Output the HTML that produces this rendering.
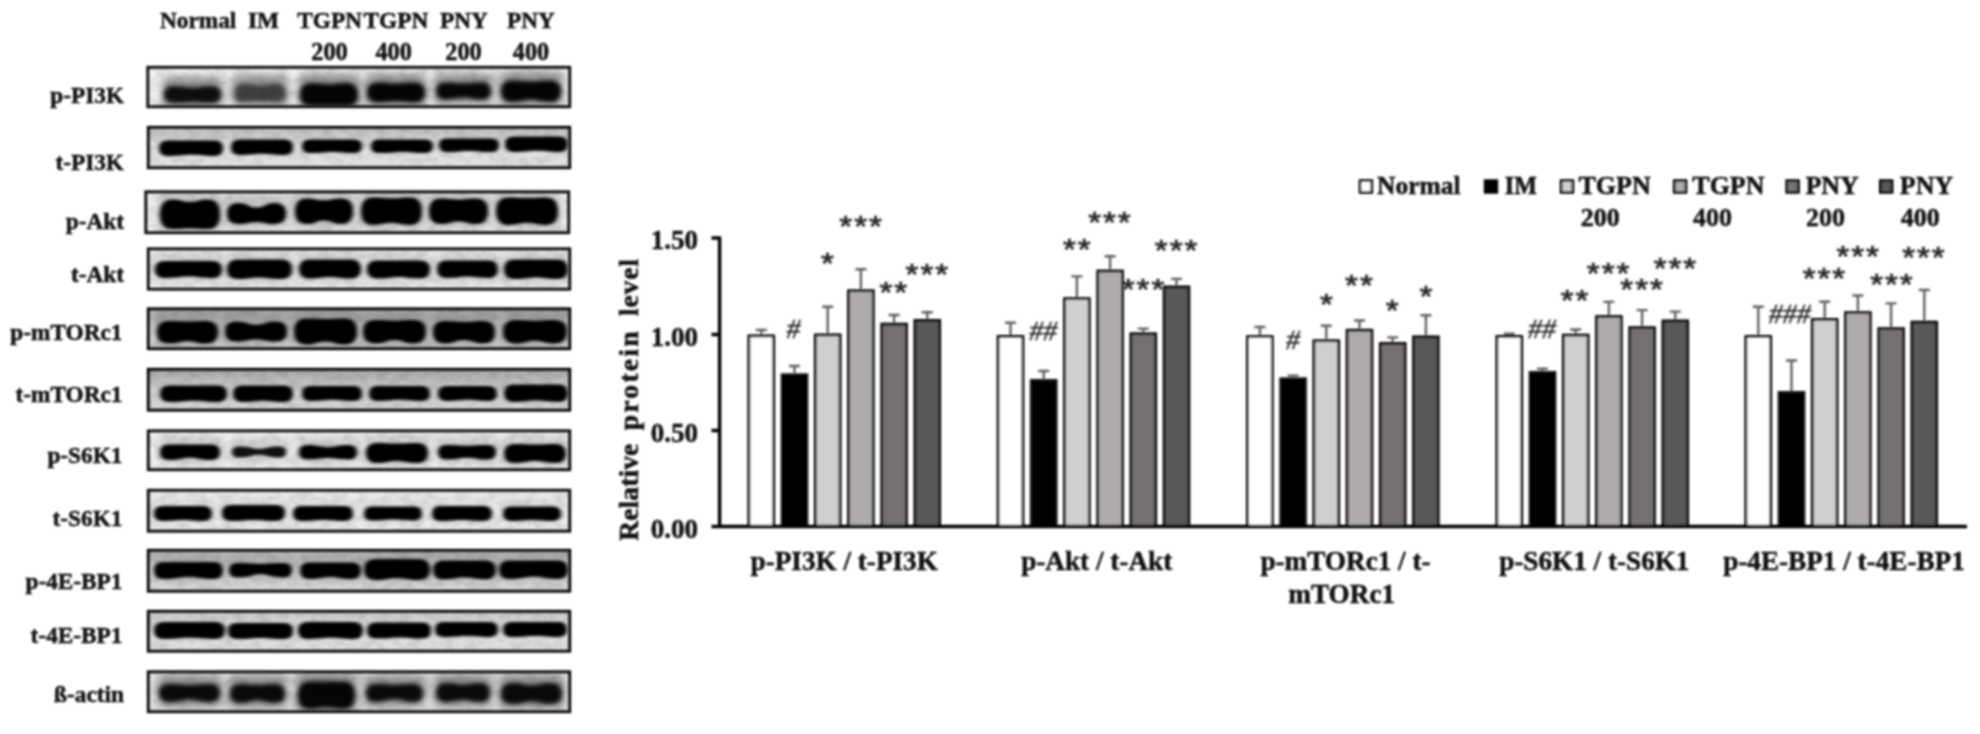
<!DOCTYPE html>
<html lang="en"><head><meta charset="utf-8"><title>Western blot and relative protein level</title>
<style>html,body{margin:0;padding:0;background:#fff}body{width:1980px;height:734px;overflow:hidden}svg{display:block}text{font-family:"Liberation Serif", "Times New Roman", serif;fill:#0a0a0a}.b{font-weight:bold;stroke:#0a0a0a;stroke-width:0.4px}</style></head><body>
<svg width="1980" height="734" viewBox="0 0 1980 734">
<defs>
<filter id="bl" x="-20%" y="-60%" width="140%" height="220%"><feGaussianBlur stdDeviation="2.0 1.6"/></filter>
<filter id="bl2" x="-20%" y="-60%" width="140%" height="220%"><feGaussianBlur stdDeviation="2.8 2.3"/></filter>
<filter id="halo" x="-30%" y="-100%" width="160%" height="300%"><feGaussianBlur stdDeviation="5 5"/></filter>
<filter id="nz" x="0" y="0" width="100%" height="100%"><feTurbulence type="fractalNoise" baseFrequency="0.09 0.12" numOctaves="2" seed="7" result="t"/><feColorMatrix type="matrix" values="0 0 0 0 0  0 0 0 0 0  0 0 0 0 0  1.6 0 0 0 -0.55"/></filter>
<filter id="soft"><feGaussianBlur stdDeviation="0.85"/></filter>
<linearGradient id="tg" x1="0" y1="0" x2="0" y2="1"><stop offset="0" stop-color="#000" stop-opacity="1"/><stop offset="0.55" stop-color="#000" stop-opacity="0"/></linearGradient>
<clipPath id="c0"><rect x="147.5" y="67.0" width="422.5" height="40.0"/></clipPath>
<clipPath id="c1"><rect x="148.0" y="127.0" width="422.0" height="41.0"/></clipPath>
<clipPath id="c2"><rect x="145.5" y="191.5" width="423.5" height="41.5"/></clipPath>
<clipPath id="c3"><rect x="148.0" y="248.5" width="422.0" height="41.0"/></clipPath>
<clipPath id="c4"><rect x="148.0" y="308.5" width="422.0" height="40.5"/></clipPath>
<clipPath id="c5"><rect x="148.0" y="369.0" width="422.0" height="41.5"/></clipPath>
<clipPath id="c6"><rect x="148.0" y="430.5" width="422.0" height="39.5"/></clipPath>
<clipPath id="c7"><rect x="148.0" y="490.0" width="422.0" height="41.5"/></clipPath>
<clipPath id="c8"><rect x="148.0" y="550.0" width="422.0" height="41.5"/></clipPath>
<clipPath id="c9"><rect x="148.0" y="611.0" width="422.0" height="40.5"/></clipPath>
<clipPath id="c10"><rect x="148.0" y="671.5" width="422.0" height="40.5"/></clipPath>
</defs>
<rect width="1980" height="734" fill="#fff"/>
<g class="b" font-size="23.3" filter="url(#soft)">
<text x="160" y="28">Normal</text>
<text x="248" y="28">IM</text>
<text x="297.3" y="28">TGPN</text>
<text x="363.5" y="28">TGPN</text>
<text x="440" y="28">PNY</text>
<text x="507" y="28">PNY</text>
<text x="329.5" y="60" font-size="24.3" text-anchor="middle">200</text>
<text x="393.7" y="60" font-size="24.3" text-anchor="middle">400</text>
<text x="463.5" y="60" font-size="24.3" text-anchor="middle">200</text>
<text x="531" y="60" font-size="24.3" text-anchor="middle">400</text>
<text x="124.0" y="102.5" text-anchor="end">p-PI3K</text>
<text x="124.0" y="170.3" text-anchor="end">t-PI3K</text>
<text x="124.0" y="228.7" text-anchor="end">p-Akt</text>
<text x="124.0" y="282.0" text-anchor="end">t-Akt</text>
<text x="122.5" y="340.0" text-anchor="end">p-mTORc1</text>
<text x="122.5" y="402.0" text-anchor="end">t-mTORc1</text>
<text x="122.5" y="463.3" text-anchor="end">p-S6K1</text>
<text x="122.5" y="526.0" text-anchor="end">t-S6K1</text>
<text x="122.5" y="589.0" text-anchor="end">p-4E-BP1</text>
<text x="122.5" y="642.5" text-anchor="end">t-4E-BP1</text>
<text x="124.0" y="701.7" text-anchor="end">ß-actin</text>
</g>
<g>
<rect x="146.5" y="66.0" width="424.5" height="42.0" fill="#f4f4f4"/>
<g clip-path="url(#c0)">
<rect x="146.5" y="66.0" width="424.5" height="42.0" filter="url(#nz)" opacity="0.12"/>
<g filter="url(#halo)" opacity="0.42">
<rect x="162.0" y="77.0" width="61.0" height="31.0" rx="6"/>
<rect x="232.0" y="75.0" width="56.0" height="32.0" rx="6"/>
<rect x="298.0" y="74.0" width="62.0" height="37.0" rx="6"/>
<rect x="365.0" y="73.5" width="62.0" height="34.0" rx="6"/>
<rect x="434.0" y="73.5" width="59.0" height="31.0" rx="6"/>
<rect x="499.0" y="71.5" width="64.0" height="35.5" rx="6"/>
</g>
<g filter="url(#bl2)" fill="#040404">
<path d="M 164.0 94.5 Q 164.0 86.0 173.3 86.0 C 184.5 86.0 184.5 87.7 192.5 87.7 C 200.5 87.7 200.5 86.0 211.7 86.0 Q 221.0 86.0 221.0 94.5 Q 221.0 103.0 211.7 103.0 C 200.5 103.0 200.5 102.2 192.5 102.2 C 184.5 102.2 184.5 103.0 173.3 103.0 Q 164.0 103.0 164.0 94.5 Z" opacity="0.90"/>
<path d="M 234.0 93.0 Q 234.0 84.0 243.9 84.0 C 252.7 84.0 252.7 85.8 260.0 85.8 C 267.3 85.8 267.3 84.0 276.1 84.0 Q 286.0 84.0 286.0 93.0 Q 286.0 102.0 276.1 102.0 C 267.3 102.0 267.3 101.1 260.0 101.1 C 252.7 101.1 252.7 102.0 243.9 102.0 Q 234.0 102.0 234.0 93.0 Z" opacity="0.55"/>
<path d="M 300.0 94.5 Q 300.0 83.0 311.6 83.0 C 320.9 83.0 320.9 84.2 329.0 84.2 C 337.1 84.2 337.1 83.0 346.4 83.0 Q 358.0 83.0 358.0 94.5 Q 358.0 106.0 346.4 106.0 C 337.1 106.0 337.1 106.0 329.0 106.0 C 320.9 106.0 320.9 106.0 311.6 106.0 Q 300.0 106.0 300.0 94.5 Z" opacity="0.97"/>
<path d="M 367.0 92.5 Q 367.0 82.5 378.0 82.5 C 387.9 82.5 387.9 83.5 396.0 83.5 C 404.1 83.5 404.1 82.5 414.0 82.5 Q 425.0 82.5 425.0 92.5 Q 425.0 102.5 414.0 102.5 C 404.1 102.5 404.1 101.5 396.0 101.5 C 387.9 101.5 387.9 102.5 378.0 102.5 Q 367.0 102.5 367.0 92.5 Z" opacity="0.97"/>
<path d="M 436.0 91.0 Q 436.0 82.5 445.4 82.5 C 455.8 82.5 455.8 83.3 463.5 83.3 C 471.2 83.3 471.2 82.5 481.6 82.5 Q 491.0 82.5 491.0 91.0 Q 491.0 99.5 481.6 99.5 C 471.2 99.5 471.2 97.8 463.5 97.8 C 455.8 97.8 455.8 99.5 445.4 99.5 Q 436.0 99.5 436.0 91.0 Z" opacity="0.95"/>
<path d="M 501.0 91.2 Q 501.0 80.5 512.8 80.5 C 522.6 80.5 522.6 81.6 531.0 81.6 C 539.4 81.6 539.4 80.5 549.2 80.5 Q 561.0 80.5 561.0 91.2 Q 561.0 102.0 549.2 102.0 C 539.4 102.0 539.4 99.8 531.0 99.8 C 522.6 99.8 522.6 102.0 512.8 102.0 Q 501.0 102.0 501.0 91.2 Z" opacity="0.97"/>
</g>
</g>
<rect x="147.8" y="67.3" width="421.9" height="39.4" fill="none" stroke="#0e0e0e" stroke-width="2.9" filter="url(#soft)"/>
</g>
<g>
<rect x="147.0" y="126.0" width="424.0" height="43.0" fill="#e0e0e0"/>
<g clip-path="url(#c1)">
<rect x="147.0" y="126.0" width="424.0" height="43.0" fill="url(#tg)" opacity="0.16"/>
<rect x="147.0" y="126.0" width="424.0" height="43.0" filter="url(#nz)" opacity="0.12"/>
<g filter="url(#bl)" fill="#040404">
<path d="M 159.0 148.2 Q 159.0 140.5 167.5 140.5 C 182.0 140.5 182.0 140.5 191.0 140.5 C 200.0 140.5 200.0 140.5 214.5 140.5 Q 223.0 140.5 223.0 148.2 Q 223.0 156.0 214.5 156.0 C 200.0 156.0 200.0 154.8 191.0 154.8 C 182.0 154.8 182.0 156.0 167.5 156.0 Q 159.0 156.0 159.0 148.2 Z" opacity="1.00"/>
<path d="M 231.0 147.2 Q 231.0 139.5 239.5 139.5 C 253.3 139.5 253.3 139.5 262.0 139.5 C 270.7 139.5 270.7 139.5 284.5 139.5 Q 293.0 139.5 293.0 147.2 Q 293.0 155.0 284.5 155.0 C 270.7 155.0 270.7 153.8 262.0 153.8 C 253.3 153.8 253.3 155.0 239.5 155.0 Q 231.0 155.0 231.0 147.2 Z" opacity="1.00"/>
<path d="M 302.0 146.2 Q 302.0 139.5 309.4 139.5 C 323.6 139.5 323.6 139.5 332.0 139.5 C 340.4 139.5 340.4 139.5 354.6 139.5 Q 362.0 139.5 362.0 146.2 Q 362.0 153.0 354.6 153.0 C 340.4 153.0 340.4 151.9 332.0 151.9 C 323.6 151.9 323.6 153.0 309.4 153.0 Q 302.0 153.0 302.0 146.2 Z" opacity="1.00"/>
<path d="M 371.0 146.2 Q 371.0 139.5 378.4 139.5 C 393.3 139.5 393.3 139.5 402.0 139.5 C 410.7 139.5 410.7 139.5 425.6 139.5 Q 433.0 139.5 433.0 146.2 Q 433.0 153.0 425.6 153.0 C 410.7 153.0 410.7 151.9 402.0 151.9 C 393.3 151.9 393.3 153.0 378.4 153.0 Q 371.0 153.0 371.0 146.2 Z" opacity="1.00"/>
<path d="M 439.0 145.2 Q 439.0 138.5 446.4 138.5 C 460.6 138.5 460.6 138.5 469.0 138.5 C 477.4 138.5 477.4 138.5 491.6 138.5 Q 499.0 138.5 499.0 145.2 Q 499.0 152.0 491.6 152.0 C 477.4 152.0 477.4 150.9 469.0 150.9 C 460.6 150.9 460.6 152.0 446.4 152.0 Q 439.0 152.0 439.0 145.2 Z" opacity="1.00"/>
<path d="M 505.0 144.2 Q 505.0 136.5 513.5 136.5 C 527.7 136.5 527.7 136.5 536.5 136.5 C 545.3 136.5 545.3 136.5 559.5 136.5 Q 568.0 136.5 568.0 144.2 Q 568.0 152.0 559.5 152.0 C 545.3 152.0 545.3 150.8 536.5 150.8 C 527.7 150.8 527.7 152.0 513.5 152.0 Q 505.0 152.0 505.0 144.2 Z" opacity="1.00"/>
</g>
</g>
<rect x="148.3" y="127.3" width="421.4" height="40.4" fill="none" stroke="#0e0e0e" stroke-width="2.9" filter="url(#soft)"/>
</g>
<g>
<rect x="144.5" y="190.5" width="425.5" height="43.5" fill="#efefef"/>
<g clip-path="url(#c2)">
<rect x="144.5" y="190.5" width="425.5" height="43.5" filter="url(#nz)" opacity="0.12"/>
<g filter="url(#halo)" opacity="0.18">
<rect x="158.0" y="190.5" width="64.0" height="43.5" rx="6"/>
<rect x="225.0" y="194.0" width="63.0" height="35.0" rx="6"/>
<rect x="293.0" y="189.5" width="62.0" height="39.5" rx="6"/>
<rect x="359.0" y="188.5" width="65.0" height="41.5" rx="6"/>
<rect x="427.0" y="189.5" width="63.0" height="39.5" rx="6"/>
<rect x="494.0" y="188.5" width="66.0" height="41.5" rx="6"/>
</g>
<g filter="url(#bl)" fill="#040404">
<path d="M 160.0 214.2 Q 160.0 199.5 172.0 199.5 C 181.6 199.5 181.6 201.9 190.0 201.9 C 198.4 201.9 198.4 199.5 208.0 199.5 Q 220.0 199.5 220.0 214.2 Q 220.0 229.0 208.0 229.0 C 198.4 229.0 198.4 228.4 190.0 228.4 C 181.6 228.4 181.6 229.0 172.0 229.0 Q 160.0 229.0 160.0 214.2 Z" opacity="1.00"/>
<path d="M 227.0 213.5 Q 227.0 203.0 238.6 203.0 C 248.2 203.0 248.2 207.6 256.5 207.6 C 264.8 207.6 264.8 203.0 274.4 203.0 Q 286.0 203.0 286.0 213.5 Q 286.0 224.0 274.4 224.0 C 264.8 224.0 264.8 222.3 256.5 222.3 C 248.2 222.3 248.2 224.0 238.6 224.0 Q 227.0 224.0 227.0 213.5 Z" opacity="1.00"/>
<path d="M 295.0 211.2 Q 295.0 198.5 306.6 198.5 C 315.9 198.5 315.9 200.3 324.0 200.3 C 332.1 200.3 332.1 198.5 341.4 198.5 Q 353.0 198.5 353.0 211.2 Q 353.0 224.0 341.4 224.0 C 332.1 224.0 332.1 220.4 324.0 220.4 C 315.9 220.4 315.9 224.0 306.6 224.0 Q 295.0 224.0 295.0 211.2 Z" opacity="1.00"/>
<path d="M 361.0 211.2 Q 361.0 197.5 373.2 197.5 C 383.0 197.5 383.0 198.3 391.5 198.3 C 400.0 198.3 400.0 197.5 409.8 197.5 Q 422.0 197.5 422.0 211.2 Q 422.0 225.0 409.8 225.0 C 400.0 225.0 400.0 223.1 391.5 223.1 C 383.0 223.1 383.0 225.0 373.2 225.0 Q 361.0 225.0 361.0 211.2 Z" opacity="1.00"/>
<path d="M 429.0 211.2 Q 429.0 198.5 440.8 198.5 C 450.2 198.5 450.2 199.5 458.5 199.5 C 466.8 199.5 466.8 198.5 476.2 198.5 Q 488.0 198.5 488.0 211.2 Q 488.0 224.0 476.2 224.0 C 466.8 224.0 466.8 221.4 458.5 221.4 C 450.2 221.4 450.2 224.0 440.8 224.0 Q 429.0 224.0 429.0 211.2 Z" opacity="1.00"/>
<path d="M 496.0 211.2 Q 496.0 197.5 508.4 197.5 C 518.3 197.5 518.3 198.1 527.0 198.1 C 535.7 198.1 535.7 197.5 545.6 197.5 Q 558.0 197.5 558.0 211.2 Q 558.0 225.0 545.6 225.0 C 535.7 225.0 535.7 223.1 527.0 223.1 C 518.3 223.1 518.3 225.0 508.4 225.0 Q 496.0 225.0 496.0 211.2 Z" opacity="1.00"/>
</g>
</g>
<rect x="145.8" y="191.8" width="422.9" height="40.9" fill="none" stroke="#0e0e0e" stroke-width="2.9" filter="url(#soft)"/>
</g>
<g>
<rect x="147.0" y="247.5" width="424.0" height="43.0" fill="#f0f0f0"/>
<g clip-path="url(#c3)">
<rect x="147.0" y="247.5" width="424.0" height="43.0" filter="url(#nz)" opacity="0.12"/>
<g filter="url(#halo)" opacity="0.12">
<rect x="153.0" y="252.0" width="71.0" height="31.0" rx="6"/>
<rect x="225.0" y="250.5" width="69.0" height="33.5" rx="6"/>
<rect x="297.0" y="250.5" width="66.0" height="33.0" rx="6"/>
<rect x="365.0" y="251.5" width="67.0" height="32.0" rx="6"/>
<rect x="435.0" y="251.5" width="65.0" height="31.5" rx="6"/>
<rect x="502.0" y="250.5" width="68.0" height="33.5" rx="6"/>
</g>
<g filter="url(#bl)" fill="#040404">
<path d="M 155.0 269.5 Q 155.0 261.0 164.3 261.0 C 179.1 261.0 179.1 261.0 188.5 261.0 C 197.9 261.0 197.9 261.0 212.7 261.0 Q 222.0 261.0 222.0 269.5 Q 222.0 278.0 212.7 278.0 C 197.9 278.0 197.9 276.6 188.5 276.6 C 179.1 276.6 179.1 278.0 164.3 278.0 Q 155.0 278.0 155.0 269.5 Z" opacity="1.00"/>
<path d="M 227.0 269.2 Q 227.0 259.5 237.7 259.5 C 250.4 259.5 250.4 259.5 259.5 259.5 C 268.6 259.5 268.6 259.5 281.3 259.5 Q 292.0 259.5 292.0 269.2 Q 292.0 279.0 281.3 279.0 C 268.6 279.0 268.6 277.4 259.5 277.4 C 250.4 277.4 250.4 279.0 237.7 279.0 Q 227.0 279.0 227.0 269.2 Z" opacity="1.00"/>
<path d="M 299.0 269.0 Q 299.0 259.5 309.4 259.5 C 321.3 259.5 321.3 259.5 330.0 259.5 C 338.7 259.5 338.7 259.5 350.6 259.5 Q 361.0 259.5 361.0 269.0 Q 361.0 278.5 350.6 278.5 C 338.7 278.5 338.7 277.0 330.0 277.0 C 321.3 277.0 321.3 278.5 309.4 278.5 Q 299.0 278.5 299.0 269.0 Z" opacity="1.00"/>
<path d="M 367.0 269.5 Q 367.0 260.5 376.9 260.5 C 389.7 260.5 389.7 260.5 398.5 260.5 C 407.3 260.5 407.3 260.5 420.1 260.5 Q 430.0 260.5 430.0 269.5 Q 430.0 278.5 420.1 278.5 C 407.3 278.5 407.3 277.1 398.5 277.1 C 389.7 277.1 389.7 278.5 376.9 278.5 Q 367.0 278.5 367.0 269.5 Z" opacity="1.00"/>
<path d="M 437.0 269.2 Q 437.0 260.5 446.6 260.5 C 459.0 260.5 459.0 260.5 467.5 260.5 C 476.0 260.5 476.0 260.5 488.4 260.5 Q 498.0 260.5 498.0 269.2 Q 498.0 278.0 488.4 278.0 C 476.0 278.0 476.0 276.6 467.5 276.6 C 459.0 276.6 459.0 278.0 446.6 278.0 Q 437.0 278.0 437.0 269.2 Z" opacity="1.00"/>
<path d="M 504.0 269.2 Q 504.0 259.5 514.7 259.5 C 527.0 259.5 527.0 259.5 536.0 259.5 C 545.0 259.5 545.0 259.5 557.3 259.5 Q 568.0 259.5 568.0 269.2 Q 568.0 279.0 557.3 279.0 C 545.0 279.0 545.0 277.4 536.0 277.4 C 527.0 277.4 527.0 279.0 514.7 279.0 Q 504.0 279.0 504.0 269.2 Z" opacity="1.00"/>
</g>
</g>
<rect x="148.3" y="248.8" width="421.4" height="40.4" fill="none" stroke="#0e0e0e" stroke-width="2.9" filter="url(#soft)"/>
</g>
<g>
<rect x="147.0" y="307.5" width="424.0" height="42.5" fill="#d6d6d6"/>
<g clip-path="url(#c4)">
<rect x="147.0" y="307.5" width="424.0" height="42.5" fill="url(#tg)" opacity="0.20"/>
<rect x="147.0" y="307.5" width="424.0" height="42.5" filter="url(#nz)" opacity="0.12"/>
<g filter="url(#halo)" opacity="0.18">
<rect x="155.0" y="312.0" width="65.0" height="36.5" rx="6"/>
<rect x="223.0" y="312.5" width="66.0" height="34.0" rx="6"/>
<rect x="292.0" y="309.5" width="67.0" height="40.0" rx="6"/>
<rect x="361.0" y="311.0" width="67.0" height="37.5" rx="6"/>
<rect x="431.0" y="312.0" width="66.0" height="36.5" rx="6"/>
<rect x="501.0" y="311.0" width="68.0" height="37.5" rx="6"/>
</g>
<g filter="url(#bl)" fill="#040404">
<path d="M 157.0 332.2 Q 157.0 321.0 169.2 321.0 C 179.0 321.0 179.0 321.4 187.5 321.4 C 196.0 321.4 196.0 321.0 205.8 321.0 Q 218.0 321.0 218.0 332.2 Q 218.0 343.5 205.8 343.5 C 196.0 343.5 196.0 341.2 187.5 341.2 C 179.0 341.2 179.0 343.5 169.2 343.5 Q 157.0 343.5 157.0 332.2 Z" opacity="1.00"/>
<path d="M 225.0 331.5 Q 225.0 321.5 236.0 321.5 C 247.3 321.5 247.3 324.7 256.0 324.7 C 264.7 324.7 264.7 321.5 276.0 321.5 Q 287.0 321.5 287.0 331.5 Q 287.0 341.5 276.0 341.5 C 264.7 341.5 264.7 339.5 256.0 339.5 C 247.3 339.5 247.3 341.5 236.0 341.5 Q 225.0 341.5 225.0 331.5 Z" opacity="1.00"/>
<path d="M 294.0 331.5 Q 294.0 318.5 306.6 318.5 C 316.7 318.5 316.7 319.0 325.5 319.0 C 334.3 319.0 334.3 318.5 344.4 318.5 Q 357.0 318.5 357.0 331.5 Q 357.0 344.5 344.4 344.5 C 334.3 344.5 334.3 341.4 325.5 341.4 C 316.7 341.4 316.7 344.5 306.6 344.5 Q 294.0 344.5 294.0 331.5 Z" opacity="1.00"/>
<path d="M 363.0 331.8 Q 363.0 320.0 375.6 320.0 C 385.7 320.0 385.7 320.7 394.5 320.7 C 403.3 320.7 403.3 320.0 413.4 320.0 Q 426.0 320.0 426.0 331.8 Q 426.0 343.5 413.4 343.5 C 403.3 343.5 403.3 340.0 394.5 340.0 C 385.7 340.0 385.7 343.5 375.6 343.5 Q 363.0 343.5 363.0 331.8 Z" opacity="1.00"/>
<path d="M 433.0 332.2 Q 433.0 321.0 445.4 321.0 C 455.3 321.0 455.3 321.9 464.0 321.9 C 472.7 321.9 472.7 321.0 482.6 321.0 Q 495.0 321.0 495.0 332.2 Q 495.0 343.5 482.6 343.5 C 472.7 343.5 472.7 340.1 464.0 340.1 C 455.3 340.1 455.3 343.5 445.4 343.5 Q 433.0 343.5 433.0 332.2 Z" opacity="1.00"/>
<path d="M 503.0 331.8 Q 503.0 320.0 515.8 320.0 C 526.0 320.0 526.0 320.7 535.0 320.7 C 544.0 320.7 544.0 320.0 554.2 320.0 Q 567.0 320.0 567.0 331.8 Q 567.0 343.5 554.2 343.5 C 544.0 343.5 544.0 340.7 535.0 340.7 C 526.0 340.7 526.0 343.5 515.8 343.5 Q 503.0 343.5 503.0 331.8 Z" opacity="1.00"/>
</g>
</g>
<rect x="148.3" y="308.8" width="421.4" height="39.9" fill="none" stroke="#0e0e0e" stroke-width="2.9" filter="url(#soft)"/>
</g>
<g>
<rect x="147.0" y="368.0" width="424.0" height="43.5" fill="#d2d2d2"/>
<g clip-path="url(#c5)">
<rect x="147.0" y="368.0" width="424.0" height="43.5" fill="url(#tg)" opacity="0.22"/>
<rect x="147.0" y="368.0" width="424.0" height="43.5" filter="url(#nz)" opacity="0.12"/>
<g filter="url(#bl)" fill="#040404">
<path d="M 160.0 393.8 Q 160.0 385.5 169.1 385.5 C 184.1 385.5 184.1 385.5 193.5 385.5 C 202.9 385.5 202.9 385.5 217.9 385.5 Q 227.0 385.5 227.0 393.8 Q 227.0 402.0 217.9 402.0 C 202.9 402.0 202.9 400.7 193.5 400.7 C 184.1 400.7 184.1 402.0 169.1 402.0 Q 160.0 402.0 160.0 393.8 Z" opacity="1.00"/>
<path d="M 233.0 393.8 Q 233.0 385.5 242.1 385.5 C 254.6 385.5 254.6 385.5 263.0 385.5 C 271.4 385.5 271.4 385.5 283.9 385.5 Q 293.0 385.5 293.0 393.8 Q 293.0 402.0 283.9 402.0 C 271.4 402.0 271.4 400.7 263.0 400.7 C 254.6 400.7 254.6 402.0 242.1 402.0 Q 233.0 402.0 233.0 393.8 Z" opacity="1.00"/>
<path d="M 302.0 393.5 Q 302.0 386.0 310.2 386.0 C 323.6 386.0 323.6 386.0 332.0 386.0 C 340.4 386.0 340.4 386.0 353.8 386.0 Q 362.0 386.0 362.0 393.5 Q 362.0 401.0 353.8 401.0 C 340.4 401.0 340.4 399.8 332.0 399.8 C 323.6 399.8 323.6 401.0 310.2 401.0 Q 302.0 401.0 302.0 393.5 Z" opacity="1.00"/>
<path d="M 369.0 393.5 Q 369.0 386.0 377.2 386.0 C 391.0 386.0 391.0 386.0 399.5 386.0 C 408.0 386.0 408.0 386.0 421.8 386.0 Q 430.0 386.0 430.0 393.5 Q 430.0 401.0 421.8 401.0 C 408.0 401.0 408.0 399.8 399.5 399.8 C 391.0 399.8 391.0 401.0 377.2 401.0 Q 369.0 401.0 369.0 393.5 Z" opacity="1.00"/>
<path d="M 438.0 393.5 Q 438.0 386.0 446.2 386.0 C 459.2 386.0 459.2 386.0 467.5 386.0 C 475.8 386.0 475.8 386.0 488.8 386.0 Q 497.0 386.0 497.0 393.5 Q 497.0 401.0 488.8 401.0 C 475.8 401.0 475.8 399.8 467.5 399.8 C 459.2 399.8 459.2 401.0 446.2 401.0 Q 438.0 401.0 438.0 393.5 Z" opacity="1.00"/>
<path d="M 504.0 393.2 Q 504.0 384.5 513.6 384.5 C 527.0 384.5 527.0 384.5 536.0 384.5 C 545.0 384.5 545.0 384.5 558.4 384.5 Q 568.0 384.5 568.0 393.2 Q 568.0 402.0 558.4 402.0 C 545.0 402.0 545.0 400.6 536.0 400.6 C 527.0 400.6 527.0 402.0 513.6 402.0 Q 504.0 402.0 504.0 393.2 Z" opacity="1.00"/>
</g>
</g>
<rect x="148.3" y="369.3" width="421.4" height="40.9" fill="none" stroke="#0e0e0e" stroke-width="2.9" filter="url(#soft)"/>
</g>
<g>
<rect x="147.0" y="429.5" width="424.0" height="41.5" fill="#f1f1f1"/>
<g clip-path="url(#c6)">
<rect x="147.0" y="429.5" width="424.0" height="41.5" filter="url(#nz)" opacity="0.12"/>
<g filter="url(#halo)" opacity="0.14">
<rect x="158.0" y="435.5" width="64.0" height="29.5" rx="6"/>
<rect x="230.0" y="437.5" width="58.0" height="25.0" rx="6"/>
<rect x="297.0" y="436.0" width="62.0" height="28.5" rx="6"/>
<rect x="364.0" y="434.0" width="66.0" height="34.0" rx="6"/>
<rect x="436.0" y="436.0" width="62.0" height="28.5" rx="6"/>
<rect x="502.0" y="435.0" width="66.0" height="33.0" rx="6"/>
</g>
<g filter="url(#bl)" fill="#040404">
<path d="M 160.0 452.2 Q 160.0 444.5 168.5 444.5 C 181.6 444.5 181.6 444.5 190.0 444.5 C 198.4 444.5 198.4 444.5 211.5 444.5 Q 220.0 444.5 220.0 452.2 Q 220.0 460.0 211.5 460.0 C 198.4 460.0 198.4 457.7 190.0 457.7 C 181.6 457.7 181.6 460.0 168.5 460.0 Q 160.0 460.0 160.0 452.2 Z" opacity="1.00"/>
<path d="M 232.0 452.0 Q 232.0 446.5 238.1 446.5 C 251.4 446.5 251.4 448.9 259.0 448.9 C 266.6 448.9 266.6 446.5 279.9 446.5 Q 286.0 446.5 286.0 452.0 Q 286.0 457.5 279.9 457.5 C 266.6 457.5 266.6 454.8 259.0 454.8 C 251.4 454.8 251.4 457.5 238.1 457.5 Q 232.0 457.5 232.0 452.0 Z" opacity="0.92"/>
<path d="M 299.0 452.2 Q 299.0 445.0 307.0 445.0 C 319.9 445.0 319.9 447.2 328.0 447.2 C 336.1 447.2 336.1 445.0 349.0 445.0 Q 357.0 445.0 357.0 452.2 Q 357.0 459.5 349.0 459.5 C 336.1 459.5 336.1 458.1 328.0 458.1 C 319.9 458.1 319.9 459.5 307.0 459.5 Q 299.0 459.5 299.0 452.2 Z" opacity="1.00"/>
<path d="M 366.0 453.0 Q 366.0 443.0 377.0 443.0 C 388.3 443.0 388.3 443.6 397.0 443.6 C 405.7 443.6 405.7 443.0 417.0 443.0 Q 428.0 443.0 428.0 453.0 Q 428.0 463.0 417.0 463.0 C 405.7 463.0 405.7 461.0 397.0 461.0 C 388.3 461.0 388.3 463.0 377.0 463.0 Q 366.0 463.0 366.0 453.0 Z" opacity="1.00"/>
<path d="M 438.0 452.2 Q 438.0 445.0 446.0 445.0 C 458.9 445.0 458.9 445.7 467.0 445.7 C 475.1 445.7 475.1 445.0 488.0 445.0 Q 496.0 445.0 496.0 452.2 Q 496.0 459.5 488.0 459.5 C 475.1 459.5 475.1 457.8 467.0 457.8 C 458.9 457.8 458.9 459.5 446.0 459.5 Q 438.0 459.5 438.0 452.2 Z" opacity="1.00"/>
<path d="M 504.0 453.5 Q 504.0 444.0 514.5 444.0 C 526.3 444.0 526.3 444.6 535.0 444.6 C 543.7 444.6 543.7 444.0 555.5 444.0 Q 566.0 444.0 566.0 453.5 Q 566.0 463.0 555.5 463.0 C 543.7 463.0 543.7 461.1 535.0 461.1 C 526.3 461.1 526.3 463.0 514.5 463.0 Q 504.0 463.0 504.0 453.5 Z" opacity="1.00"/>
</g>
</g>
<rect x="148.3" y="430.8" width="421.4" height="38.9" fill="none" stroke="#0e0e0e" stroke-width="2.9" filter="url(#soft)"/>
</g>
<g>
<rect x="147.0" y="489.0" width="424.0" height="43.5" fill="#ececec"/>
<g clip-path="url(#c7)">
<rect x="147.0" y="489.0" width="424.0" height="43.5" filter="url(#nz)" opacity="0.12"/>
<g filter="url(#halo)" opacity="0.05">
<rect x="152.0" y="497.0" width="62.0" height="29.0" rx="6"/>
<rect x="220.0" y="496.0" width="67.0" height="30.0" rx="6"/>
<rect x="291.0" y="497.0" width="64.0" height="29.0" rx="6"/>
<rect x="362.0" y="497.5" width="62.0" height="28.0" rx="6"/>
<rect x="430.0" y="497.0" width="64.0" height="29.0" rx="6"/>
<rect x="501.0" y="497.5" width="62.0" height="28.5" rx="6"/>
</g>
<g filter="url(#bl)" fill="#040404">
<path d="M 154.0 513.5 Q 154.0 506.0 162.2 506.0 C 174.9 506.0 174.9 506.0 183.0 506.0 C 191.1 506.0 191.1 506.0 203.8 506.0 Q 212.0 506.0 212.0 513.5 Q 212.0 521.0 203.8 521.0 C 191.1 521.0 191.1 520.0 183.0 520.0 C 174.9 520.0 174.9 521.0 162.2 521.0 Q 154.0 521.0 154.0 513.5 Z" opacity="1.00"/>
<path d="M 222.0 513.0 Q 222.0 505.0 230.8 505.0 C 244.7 505.0 244.7 505.0 253.5 505.0 C 262.3 505.0 262.3 505.0 276.2 505.0 Q 285.0 505.0 285.0 513.0 Q 285.0 521.0 276.2 521.0 C 262.3 521.0 262.3 519.9 253.5 519.9 C 244.7 519.9 244.7 521.0 230.8 521.0 Q 222.0 521.0 222.0 513.0 Z" opacity="1.00"/>
<path d="M 293.0 513.5 Q 293.0 506.0 301.2 506.0 C 314.6 506.0 314.6 506.0 323.0 506.0 C 331.4 506.0 331.4 506.0 344.8 506.0 Q 353.0 506.0 353.0 513.5 Q 353.0 521.0 344.8 521.0 C 331.4 521.0 331.4 520.0 323.0 520.0 C 314.6 520.0 314.6 521.0 301.2 521.0 Q 293.0 521.0 293.0 513.5 Z" opacity="1.00"/>
<path d="M 364.0 513.5 Q 364.0 506.5 371.7 506.5 C 384.9 506.5 384.9 506.5 393.0 506.5 C 401.1 506.5 401.1 506.5 414.3 506.5 Q 422.0 506.5 422.0 513.5 Q 422.0 520.5 414.3 520.5 C 401.1 520.5 401.1 519.5 393.0 519.5 C 384.9 519.5 384.9 520.5 371.7 520.5 Q 364.0 520.5 364.0 513.5 Z" opacity="1.00"/>
<path d="M 432.0 513.5 Q 432.0 506.0 440.2 506.0 C 453.6 506.0 453.6 506.0 462.0 506.0 C 470.4 506.0 470.4 506.0 483.8 506.0 Q 492.0 506.0 492.0 513.5 Q 492.0 521.0 483.8 521.0 C 470.4 521.0 470.4 520.0 462.0 520.0 C 453.6 520.0 453.6 521.0 440.2 521.0 Q 432.0 521.0 432.0 513.5 Z" opacity="1.00"/>
<path d="M 503.0 513.8 Q 503.0 506.5 511.0 506.5 C 523.9 506.5 523.9 506.5 532.0 506.5 C 540.1 506.5 540.1 506.5 553.0 506.5 Q 561.0 506.5 561.0 513.8 Q 561.0 521.0 553.0 521.0 C 540.1 521.0 540.1 520.0 532.0 520.0 C 523.9 520.0 523.9 521.0 511.0 521.0 Q 503.0 521.0 503.0 513.8 Z" opacity="1.00"/>
</g>
</g>
<rect x="148.3" y="490.3" width="421.4" height="40.9" fill="none" stroke="#0e0e0e" stroke-width="2.9" filter="url(#soft)"/>
</g>
<g>
<rect x="147.0" y="549.0" width="424.0" height="43.5" fill="#dddddd"/>
<g clip-path="url(#c8)">
<rect x="147.0" y="549.0" width="424.0" height="43.5" fill="url(#tg)" opacity="0.18"/>
<rect x="147.0" y="549.0" width="424.0" height="43.5" filter="url(#nz)" opacity="0.12"/>
<g filter="url(#halo)" opacity="0.12">
<rect x="152.0" y="553.0" width="73.0" height="31.0" rx="6"/>
<rect x="227.0" y="554.0" width="67.0" height="28.5" rx="6"/>
<rect x="298.0" y="553.5" width="65.0" height="30.5" rx="6"/>
<rect x="362.0" y="550.0" width="70.0" height="35.0" rx="6"/>
<rect x="431.0" y="551.5" width="67.0" height="33.0" rx="6"/>
<rect x="497.0" y="551.5" width="73.0" height="32.5" rx="6"/>
</g>
<g filter="url(#bl)" fill="#040404">
<path d="M 154.0 570.5 Q 154.0 562.0 163.3 562.0 C 178.8 562.0 178.8 562.0 188.5 562.0 C 198.2 562.0 198.2 562.0 213.7 562.0 Q 223.0 562.0 223.0 570.5 Q 223.0 579.0 213.7 579.0 C 198.2 579.0 198.2 577.0 188.5 577.0 C 178.8 577.0 178.8 579.0 163.3 579.0 Q 154.0 579.0 154.0 570.5 Z" opacity="1.00"/>
<path d="M 229.0 570.2 Q 229.0 563.0 237.0 563.0 C 251.7 563.0 251.7 563.7 260.5 563.7 C 269.3 563.7 269.3 563.0 284.0 563.0 Q 292.0 563.0 292.0 570.2 Q 292.0 577.5 284.0 577.5 C 269.3 577.5 269.3 574.3 260.5 574.3 C 251.7 574.3 251.7 577.5 237.0 577.5 Q 229.0 577.5 229.0 570.2 Z" opacity="1.00"/>
<path d="M 300.0 570.8 Q 300.0 562.5 309.1 562.5 C 322.0 562.5 322.0 562.5 330.5 562.5 C 339.0 562.5 339.0 562.5 351.9 562.5 Q 361.0 562.5 361.0 570.8 Q 361.0 579.0 351.9 579.0 C 339.0 579.0 339.0 577.0 330.5 577.0 C 322.0 577.0 322.0 579.0 309.1 579.0 Q 300.0 579.0 300.0 570.8 Z" opacity="1.00"/>
<path d="M 364.0 569.5 Q 364.0 559.0 375.6 559.0 C 387.8 559.0 387.8 559.0 397.0 559.0 C 406.2 559.0 406.2 559.0 418.4 559.0 Q 430.0 559.0 430.0 569.5 Q 430.0 580.0 418.4 580.0 C 406.2 580.0 406.2 578.3 397.0 578.3 C 387.8 578.3 387.8 580.0 375.6 580.0 Q 364.0 580.0 364.0 569.5 Z" opacity="1.00"/>
<path d="M 433.0 570.0 Q 433.0 560.5 443.4 560.5 C 455.7 560.5 455.7 560.5 464.5 560.5 C 473.3 560.5 473.3 560.5 485.6 560.5 Q 496.0 560.5 496.0 570.0 Q 496.0 579.5 485.6 579.5 C 473.3 579.5 473.3 577.6 464.5 577.6 C 455.7 577.6 455.7 579.5 443.4 579.5 Q 433.0 579.5 433.0 570.0 Z" opacity="1.00"/>
<path d="M 499.0 569.8 Q 499.0 560.5 509.2 560.5 C 523.8 560.5 523.8 560.5 533.5 560.5 C 543.2 560.5 543.2 560.5 557.8 560.5 Q 568.0 560.5 568.0 569.8 Q 568.0 579.0 557.8 579.0 C 543.2 579.0 543.2 576.8 533.5 576.8 C 523.8 576.8 523.8 579.0 509.2 579.0 Q 499.0 579.0 499.0 569.8 Z" opacity="1.00"/>
</g>
</g>
<rect x="148.3" y="550.3" width="421.4" height="40.9" fill="none" stroke="#0e0e0e" stroke-width="2.9" filter="url(#soft)"/>
</g>
<g>
<rect x="147.0" y="610.0" width="424.0" height="42.5" fill="#dedede"/>
<g clip-path="url(#c9)">
<rect x="147.0" y="610.0" width="424.0" height="42.5" fill="url(#tg)" opacity="0.10"/>
<rect x="147.0" y="610.0" width="424.0" height="42.5" filter="url(#nz)" opacity="0.12"/>
<g filter="url(#bl)" fill="#040404">
<path d="M 154.0 630.5 Q 154.0 622.0 163.3 622.0 C 179.6 622.0 179.6 622.0 189.5 622.0 C 199.4 622.0 199.4 622.0 215.7 622.0 Q 225.0 622.0 225.0 630.5 Q 225.0 639.0 215.7 639.0 C 199.4 639.0 199.4 637.8 189.5 637.8 C 179.6 637.8 179.6 639.0 163.3 639.0 Q 154.0 639.0 154.0 630.5 Z" opacity="1.00"/>
<path d="M 228.0 631.0 Q 228.0 623.0 236.8 623.0 C 251.4 623.0 251.4 623.0 260.5 623.0 C 269.6 623.0 269.6 623.0 284.2 623.0 Q 293.0 623.0 293.0 631.0 Q 293.0 639.0 284.2 639.0 C 269.6 639.0 269.6 637.9 260.5 637.9 C 251.4 637.9 251.4 639.0 236.8 639.0 Q 228.0 639.0 228.0 631.0 Z" opacity="1.00"/>
<path d="M 298.0 630.5 Q 298.0 622.0 307.4 622.0 C 321.4 622.0 321.4 622.0 330.5 622.0 C 339.6 622.0 339.6 622.0 353.6 622.0 Q 363.0 622.0 363.0 630.5 Q 363.0 639.0 353.6 639.0 C 339.6 639.0 339.6 637.8 330.5 637.8 C 321.4 637.8 321.4 639.0 307.4 639.0 Q 298.0 639.0 298.0 630.5 Z" opacity="1.00"/>
<path d="M 367.0 630.5 Q 367.0 622.5 375.8 622.5 C 390.0 622.5 390.0 622.5 399.0 622.5 C 408.0 622.5 408.0 622.5 422.2 622.5 Q 431.0 622.5 431.0 630.5 Q 431.0 638.5 422.2 638.5 C 408.0 638.5 408.0 637.4 399.0 637.4 C 390.0 637.4 390.0 638.5 375.8 638.5 Q 367.0 638.5 367.0 630.5 Z" opacity="1.00"/>
<path d="M 435.0 629.5 Q 435.0 622.0 443.2 622.0 C 457.7 622.0 457.7 622.0 466.5 622.0 C 475.3 622.0 475.3 622.0 489.8 622.0 Q 498.0 622.0 498.0 629.5 Q 498.0 637.0 489.8 637.0 C 475.3 637.0 475.3 636.0 466.5 636.0 C 457.7 636.0 457.7 637.0 443.2 637.0 Q 435.0 637.0 435.0 629.5 Z" opacity="1.00"/>
<path d="M 503.0 629.5 Q 503.0 622.0 511.2 622.0 C 526.0 622.0 526.0 622.0 535.0 622.0 C 544.0 622.0 544.0 622.0 558.8 622.0 Q 567.0 622.0 567.0 629.5 Q 567.0 637.0 558.8 637.0 C 544.0 637.0 544.0 636.0 535.0 636.0 C 526.0 636.0 526.0 637.0 511.2 637.0 Q 503.0 637.0 503.0 629.5 Z" opacity="1.00"/>
</g>
</g>
<rect x="148.3" y="611.3" width="421.4" height="39.9" fill="none" stroke="#0e0e0e" stroke-width="2.9" filter="url(#soft)"/>
</g>
<g>
<rect x="147.0" y="670.5" width="424.0" height="42.5" fill="#e8e8e8"/>
<g clip-path="url(#c10)">
<rect x="147.0" y="670.5" width="424.0" height="42.5" filter="url(#nz)" opacity="0.12"/>
<g filter="url(#halo)" opacity="0.40">
<rect x="157.0" y="675.0" width="65.0" height="32.0" rx="6"/>
<rect x="228.0" y="675.0" width="59.0" height="33.0" rx="6"/>
<rect x="296.0" y="672.5" width="61.0" height="41.5" rx="6"/>
<rect x="364.0" y="675.0" width="61.0" height="32.0" rx="6"/>
<rect x="434.0" y="674.0" width="58.0" height="33.0" rx="6"/>
<rect x="499.0" y="674.0" width="65.0" height="35.0" rx="6"/>
</g>
<g filter="url(#bl2)" fill="#040404">
<path d="M 159.0 693.0 Q 159.0 684.0 168.9 684.0 C 181.0 684.0 181.0 684.9 189.5 684.9 C 198.0 684.9 198.0 684.0 210.1 684.0 Q 220.0 684.0 220.0 693.0 Q 220.0 702.0 210.1 702.0 C 198.0 702.0 198.0 699.5 189.5 699.5 C 181.0 699.5 181.0 702.0 168.9 702.0 Q 159.0 702.0 159.0 693.0 Z" opacity="0.93"/>
<path d="M 230.0 693.5 Q 230.0 684.0 240.4 684.0 C 249.8 684.0 249.8 685.0 257.5 685.0 C 265.2 685.0 265.2 684.0 274.6 684.0 Q 285.0 684.0 285.0 693.5 Q 285.0 703.0 274.6 703.0 C 265.2 703.0 265.2 700.3 257.5 700.3 C 249.8 700.3 249.8 703.0 240.4 703.0 Q 230.0 703.0 230.0 693.5 Z" opacity="0.93"/>
<path d="M 298.0 695.2 Q 298.0 681.5 309.4 681.5 C 318.5 681.5 318.5 681.5 326.5 681.5 C 334.5 681.5 334.5 681.5 343.6 681.5 Q 355.0 681.5 355.0 695.2 Q 355.0 709.0 343.6 709.0 C 334.5 709.0 334.5 707.4 326.5 707.4 C 318.5 707.4 318.5 709.0 309.4 709.0 Q 298.0 709.0 298.0 695.2 Z" opacity="0.96"/>
<path d="M 366.0 693.0 Q 366.0 684.0 375.9 684.0 C 386.5 684.0 386.5 684.7 394.5 684.7 C 402.5 684.7 402.5 684.0 413.1 684.0 Q 423.0 684.0 423.0 693.0 Q 423.0 702.0 413.1 702.0 C 402.5 702.0 402.5 699.3 394.5 699.3 C 386.5 699.3 386.5 702.0 375.9 702.0 Q 366.0 702.0 366.0 693.0 Z" opacity="0.93"/>
<path d="M 436.0 692.5 Q 436.0 683.0 446.4 683.0 C 455.4 683.0 455.4 684.5 463.0 684.5 C 470.6 684.5 470.6 683.0 479.6 683.0 Q 490.0 683.0 490.0 692.5 Q 490.0 702.0 479.6 702.0 C 470.6 702.0 470.6 700.1 463.0 700.1 C 455.4 700.1 455.4 702.0 446.4 702.0 Q 436.0 702.0 436.0 692.5 Z" opacity="0.93"/>
<path d="M 501.0 693.5 Q 501.0 683.0 512.5 683.0 C 523.0 683.0 523.0 685.1 531.5 685.1 C 540.0 685.1 540.0 683.0 550.5 683.0 Q 562.0 683.0 562.0 693.5 Q 562.0 704.0 550.5 704.0 C 540.0 704.0 540.0 701.5 531.5 701.5 C 523.0 701.5 523.0 704.0 512.5 704.0 Q 501.0 704.0 501.0 693.5 Z" opacity="0.93"/>
</g>
</g>
<rect x="148.3" y="671.8" width="421.4" height="39.9" fill="none" stroke="#0e0e0e" stroke-width="2.9" filter="url(#soft)"/>
</g>
<g text-anchor="middle" filter="url(#soft)">
<text x="793.4" y="338.0" style="font-style:italic;font-size:28px;fill:#2a2a2a;stroke:#2a2a2a;stroke-width:0.45px">#</text>
<text transform="translate(828.3 273.4) scale(1 0.87)" style="font-family:'Liberation Sans',Arial,sans-serif;font-size:33px;letter-spacing:2.0px;fill:#262626;stroke:#262626;stroke-width:0.8px">*</text>
<text transform="translate(861.6 236.4) scale(1 0.87)" style="font-family:'Liberation Sans',Arial,sans-serif;font-size:33px;letter-spacing:2.0px;fill:#262626;stroke:#262626;stroke-width:0.8px">***</text>
<text transform="translate(894.3 301.5) scale(1 0.87)" style="font-family:'Liberation Sans',Arial,sans-serif;font-size:33px;letter-spacing:2.0px;fill:#262626;stroke:#262626;stroke-width:0.8px">**</text>
<text transform="translate(927.8 283.8) scale(1 0.87)" style="font-family:'Liberation Sans',Arial,sans-serif;font-size:33px;letter-spacing:2.0px;fill:#262626;stroke:#262626;stroke-width:0.8px">***</text>
<text x="1043.2" y="340.1" style="font-style:italic;font-size:28px;fill:#2a2a2a;stroke:#2a2a2a;stroke-width:0.45px">##</text>
<text transform="translate(1077.8 259.1) scale(1 0.87)" style="font-family:'Liberation Sans',Arial,sans-serif;font-size:33px;letter-spacing:2.0px;fill:#262626;stroke:#262626;stroke-width:0.8px">**</text>
<text transform="translate(1110.4 232.3) scale(1 0.87)" style="font-family:'Liberation Sans',Arial,sans-serif;font-size:33px;letter-spacing:2.0px;fill:#262626;stroke:#262626;stroke-width:0.8px">***</text>
<text transform="translate(1144.0 299.1) scale(1 0.87)" style="font-family:'Liberation Sans',Arial,sans-serif;font-size:33px;letter-spacing:2.0px;fill:#262626;stroke:#262626;stroke-width:0.8px">***</text>
<text transform="translate(1177.1 260.3) scale(1 0.87)" style="font-family:'Liberation Sans',Arial,sans-serif;font-size:33px;letter-spacing:2.0px;fill:#262626;stroke:#262626;stroke-width:0.8px">***</text>
<text x="1292.9" y="348.6" style="font-style:italic;font-size:28px;fill:#2a2a2a;stroke:#2a2a2a;stroke-width:0.45px">#</text>
<text transform="translate(1327.3 313.5) scale(1 0.87)" style="font-family:'Liberation Sans',Arial,sans-serif;font-size:33px;letter-spacing:2.0px;fill:#262626;stroke:#262626;stroke-width:0.8px">*</text>
<text transform="translate(1359.9 294.9) scale(1 0.87)" style="font-family:'Liberation Sans',Arial,sans-serif;font-size:33px;letter-spacing:2.0px;fill:#262626;stroke:#262626;stroke-width:0.8px">**</text>
<text transform="translate(1393.2 320.2) scale(1 0.87)" style="font-family:'Liberation Sans',Arial,sans-serif;font-size:33px;letter-spacing:2.0px;fill:#262626;stroke:#262626;stroke-width:0.8px">*</text>
<text transform="translate(1426.9 305.9) scale(1 0.87)" style="font-family:'Liberation Sans',Arial,sans-serif;font-size:33px;letter-spacing:2.0px;fill:#262626;stroke:#262626;stroke-width:0.8px">*</text>
<text x="1542.0" y="337.9" style="font-style:italic;font-size:28px;fill:#2a2a2a;stroke:#2a2a2a;stroke-width:0.45px">##</text>
<text transform="translate(1575.6 309.9) scale(1 0.87)" style="font-family:'Liberation Sans',Arial,sans-serif;font-size:33px;letter-spacing:2.0px;fill:#262626;stroke:#262626;stroke-width:0.8px">**</text>
<text transform="translate(1609.1 283.0) scale(1 0.87)" style="font-family:'Liberation Sans',Arial,sans-serif;font-size:33px;letter-spacing:2.0px;fill:#262626;stroke:#262626;stroke-width:0.8px">***</text>
<text transform="translate(1642.6 299.0) scale(1 0.87)" style="font-family:'Liberation Sans',Arial,sans-serif;font-size:33px;letter-spacing:2.0px;fill:#262626;stroke:#262626;stroke-width:0.8px">***</text>
<text transform="translate(1675.9 277.5) scale(1 0.87)" style="font-family:'Liberation Sans',Arial,sans-serif;font-size:33px;letter-spacing:2.0px;fill:#262626;stroke:#262626;stroke-width:0.8px">***</text>
<text x="1789.8" y="323.2" style="font-style:italic;font-size:28px;fill:#2a2a2a;stroke:#2a2a2a;stroke-width:0.45px">###</text>
<text transform="translate(1824.9 288.1) scale(1 0.87)" style="font-family:'Liberation Sans',Arial,sans-serif;font-size:33px;letter-spacing:2.0px;fill:#262626;stroke:#262626;stroke-width:0.8px">***</text>
<text transform="translate(1858.7 265.8) scale(1 0.87)" style="font-family:'Liberation Sans',Arial,sans-serif;font-size:33px;letter-spacing:2.0px;fill:#262626;stroke:#262626;stroke-width:0.8px">***</text>
<text transform="translate(1892.4 293.5) scale(1 0.87)" style="font-family:'Liberation Sans',Arial,sans-serif;font-size:33px;letter-spacing:2.0px;fill:#262626;stroke:#262626;stroke-width:0.8px">***</text>
<text transform="translate(1924.4 267.3) scale(1 0.87)" style="font-family:'Liberation Sans',Arial,sans-serif;font-size:33px;letter-spacing:2.0px;fill:#262626;stroke:#262626;stroke-width:0.8px">***</text>
</g>
<g filter="url(#soft)">
<path d="M761.3 334.5 V330.0 M755.8 330.0 H766.8" stroke="#606060" stroke-width="2.4" fill="none"/>
<rect x="748.9" y="335.9" width="24.8" height="190.6" fill="#ffffff" stroke="#0c0c0c" stroke-width="2.8"/>
<path d="M794.5 373.3 V366.0 M789.0 366.0 H800.0" stroke="#606060" stroke-width="2.4" fill="none"/>
<rect x="782.1" y="374.7" width="24.8" height="151.8" fill="#000000" stroke="#0c0c0c" stroke-width="2.8"/>
<path d="M827.7 333.5 V306.7 M822.2 306.7 H833.2" stroke="#606060" stroke-width="2.4" fill="none"/>
<rect x="815.3" y="334.9" width="24.8" height="191.6" fill="#d0cece" stroke="#0c0c0c" stroke-width="2.8"/>
<path d="M860.9 289.3 V269.3 M855.4 269.3 H866.4" stroke="#606060" stroke-width="2.4" fill="none"/>
<rect x="848.5" y="290.7" width="24.8" height="235.8" fill="#afabab" stroke="#0c0c0c" stroke-width="2.8"/>
<path d="M894.1 322.7 V315.0 M888.6 315.0 H899.6" stroke="#606060" stroke-width="2.4" fill="none"/>
<rect x="881.7" y="324.1" width="24.8" height="202.4" fill="#767171" stroke="#0c0c0c" stroke-width="2.8"/>
<path d="M927.3 319.0 V312.3 M921.8 312.3 H932.8" stroke="#606060" stroke-width="2.4" fill="none"/>
<rect x="914.9" y="320.4" width="24.8" height="206.1" fill="#595959" stroke="#0c0c0c" stroke-width="2.8"/>
<path d="M1010.5 335.0 V322.7 M1005.0 322.7 H1016.0" stroke="#606060" stroke-width="2.4" fill="none"/>
<rect x="998.1" y="336.4" width="24.8" height="190.1" fill="#ffffff" stroke="#0c0c0c" stroke-width="2.8"/>
<path d="M1043.7 379.0 V371.0 M1038.2 371.0 H1049.2" stroke="#606060" stroke-width="2.4" fill="none"/>
<rect x="1031.3" y="380.4" width="24.8" height="146.1" fill="#000000" stroke="#0c0c0c" stroke-width="2.8"/>
<path d="M1076.9 297.2 V276.4 M1071.4 276.4 H1082.4" stroke="#606060" stroke-width="2.4" fill="none"/>
<rect x="1064.5" y="298.6" width="24.8" height="227.9" fill="#d0cece" stroke="#0c0c0c" stroke-width="2.8"/>
<path d="M1110.1 269.6 V256.2 M1104.6 256.2 H1115.6" stroke="#606060" stroke-width="2.4" fill="none"/>
<rect x="1097.7" y="271.0" width="24.8" height="255.5" fill="#afabab" stroke="#0c0c0c" stroke-width="2.8"/>
<path d="M1143.3 332.3 V328.6 M1137.8 328.6 H1148.8" stroke="#606060" stroke-width="2.4" fill="none"/>
<rect x="1130.9" y="333.7" width="24.8" height="192.8" fill="#767171" stroke="#0c0c0c" stroke-width="2.8"/>
<path d="M1176.5 285.5 V278.9 M1171.0 278.9 H1182.0" stroke="#606060" stroke-width="2.4" fill="none"/>
<rect x="1164.1" y="286.9" width="24.8" height="239.6" fill="#595959" stroke="#0c0c0c" stroke-width="2.8"/>
<path d="M1259.9 335.2 V327.0 M1254.4 327.0 H1265.4" stroke="#606060" stroke-width="2.4" fill="none"/>
<rect x="1247.5" y="336.6" width="24.8" height="189.9" fill="#ffffff" stroke="#0c0c0c" stroke-width="2.8"/>
<path d="M1293.1 377.3 V375.6 M1287.6 375.6 H1298.6" stroke="#606060" stroke-width="2.4" fill="none"/>
<rect x="1280.7" y="378.7" width="24.8" height="147.8" fill="#000000" stroke="#0c0c0c" stroke-width="2.8"/>
<path d="M1326.3 339.3 V325.7 M1320.8 325.7 H1331.8" stroke="#606060" stroke-width="2.4" fill="none"/>
<rect x="1313.9" y="340.7" width="24.8" height="185.8" fill="#d0cece" stroke="#0c0c0c" stroke-width="2.8"/>
<path d="M1359.5 328.8 V320.5 M1354.0 320.5 H1365.0" stroke="#606060" stroke-width="2.4" fill="none"/>
<rect x="1347.1" y="330.2" width="24.8" height="196.3" fill="#afabab" stroke="#0c0c0c" stroke-width="2.8"/>
<path d="M1392.7 342.0 V337.4 M1387.2 337.4 H1398.2" stroke="#606060" stroke-width="2.4" fill="none"/>
<rect x="1380.3" y="343.4" width="24.8" height="183.1" fill="#767171" stroke="#0c0c0c" stroke-width="2.8"/>
<path d="M1425.9 335.4 V315.2 M1420.4 315.2 H1431.4" stroke="#606060" stroke-width="2.4" fill="none"/>
<rect x="1413.5" y="336.8" width="24.8" height="189.7" fill="#595959" stroke="#0c0c0c" stroke-width="2.8"/>
<path d="M1509.3 335.0 V333.7 M1503.8 333.7 H1514.8" stroke="#606060" stroke-width="2.4" fill="none"/>
<rect x="1496.9" y="336.4" width="24.8" height="190.1" fill="#ffffff" stroke="#0c0c0c" stroke-width="2.8"/>
<path d="M1542.5 371.0 V368.8 M1537.0 368.8 H1548.0" stroke="#606060" stroke-width="2.4" fill="none"/>
<rect x="1530.1" y="372.4" width="24.8" height="154.1" fill="#000000" stroke="#0c0c0c" stroke-width="2.8"/>
<path d="M1575.7 333.7 V329.5 M1570.2 329.5 H1581.2" stroke="#606060" stroke-width="2.4" fill="none"/>
<rect x="1563.3" y="335.1" width="24.8" height="191.4" fill="#d0cece" stroke="#0c0c0c" stroke-width="2.8"/>
<path d="M1608.9 315.1 V301.9 M1603.4 301.9 H1614.4" stroke="#606060" stroke-width="2.4" fill="none"/>
<rect x="1596.5" y="316.5" width="24.8" height="210.0" fill="#afabab" stroke="#0c0c0c" stroke-width="2.8"/>
<path d="M1642.1 326.2 V310.1 M1636.6 310.1 H1647.6" stroke="#606060" stroke-width="2.4" fill="none"/>
<rect x="1629.7" y="327.6" width="24.8" height="198.9" fill="#767171" stroke="#0c0c0c" stroke-width="2.8"/>
<path d="M1675.3 319.4 V311.6 M1669.8 311.6 H1680.8" stroke="#606060" stroke-width="2.4" fill="none"/>
<rect x="1662.9" y="320.8" width="24.8" height="205.7" fill="#595959" stroke="#0c0c0c" stroke-width="2.8"/>
<path d="M1758.3 335.0 V306.7 M1752.8 306.7 H1763.8" stroke="#606060" stroke-width="2.4" fill="none"/>
<rect x="1745.9" y="336.4" width="24.8" height="190.1" fill="#ffffff" stroke="#0c0c0c" stroke-width="2.8"/>
<path d="M1791.5 391.0 V360.5 M1786.0 360.5 H1797.0" stroke="#606060" stroke-width="2.4" fill="none"/>
<rect x="1779.1" y="392.4" width="24.8" height="134.1" fill="#000000" stroke="#0c0c0c" stroke-width="2.8"/>
<path d="M1824.7 318.0 V301.8 M1819.2 301.8 H1830.2" stroke="#606060" stroke-width="2.4" fill="none"/>
<rect x="1812.3" y="319.4" width="24.8" height="207.1" fill="#d0cece" stroke="#0c0c0c" stroke-width="2.8"/>
<path d="M1857.9 311.2 V295.5 M1852.4 295.5 H1863.4" stroke="#606060" stroke-width="2.4" fill="none"/>
<rect x="1845.5" y="312.6" width="24.8" height="213.9" fill="#afabab" stroke="#0c0c0c" stroke-width="2.8"/>
<path d="M1891.1 327.2 V303.4 M1885.6 303.4 H1896.6" stroke="#606060" stroke-width="2.4" fill="none"/>
<rect x="1878.7" y="328.6" width="24.8" height="197.9" fill="#767171" stroke="#0c0c0c" stroke-width="2.8"/>
<path d="M1924.3 320.7 V290.0 M1918.8 290.0 H1929.8" stroke="#606060" stroke-width="2.4" fill="none"/>
<rect x="1911.9" y="322.1" width="24.8" height="204.4" fill="#595959" stroke="#0c0c0c" stroke-width="2.8"/>
<path d="M719.6 236.5 V528 M711.5 238 H721 M711.5 334.5 H721 M711.5 430.5 H721 M711.5 526.5 H1967" stroke="#000" stroke-width="3.4" fill="none"/>
</g>
<g class="b" font-size="27" text-anchor="end" filter="url(#soft)">
<text x="698" y="249.2">1.50</text>
<text x="698" y="345.5">1.00</text>
<text x="698" y="441.5">0.50</text>
<text x="698" y="537.5">0.00</text>
</g>
<g class="b" font-size="27.7" filter="url(#soft)" transform="translate(638 0)">
<text transform="translate(0 540.7) rotate(-90)" textLength="97" lengthAdjust="spacing">Relative</text>
<text transform="translate(0 430.3) rotate(-90)" textLength="99" lengthAdjust="spacing">protein</text>
<text transform="translate(0 316.0) rotate(-90)" textLength="57" lengthAdjust="spacing">level</text>
</g>
<g class="b" font-size="27.2" text-anchor="middle" filter="url(#soft)">
<text x="844.2" y="570">p-PI3K / t-PI3K</text>
<text x="1096.7" y="570">p-Akt / t-Akt</text>
<text x="1345.5" y="570">p-mTORc1 / t-</text>
<text x="1341.7" y="603">mTORc1</text>
<text x="1594.3" y="570">p-S6K1 / t-S6K1</text>
<text x="1844" y="570">p-4E-BP1 / t-4E-BP1</text>
</g>
<g filter="url(#soft)">
<rect x="1360.0" y="180.6" width="11.8" height="11.8" fill="#fff" stroke="#000" stroke-width="2.6"/>
<text class="b" font-size="26" x="1377.0" y="194" textLength="83.5" lengthAdjust="spacingAndGlyphs">Normal</text>
<rect x="1485.1" y="180.6" width="11.8" height="11.8" fill="#000" stroke="#000" stroke-width="2.6"/>
<text class="b" font-size="26" x="1504.8" y="194" textLength="32" lengthAdjust="spacingAndGlyphs">IM</text>
<rect x="1561.1" y="180.6" width="11.8" height="11.8" fill="#d0cece" stroke="#000" stroke-width="2.6"/>
<text class="b" font-size="26" x="1578.5" y="194">TGPN</text>
<text class="b" font-size="26" x="1580.8" y="226.3">200</text>
<rect x="1674.2" y="180.6" width="11.8" height="11.8" fill="#afabab" stroke="#000" stroke-width="2.6"/>
<text class="b" font-size="26" x="1692.3" y="194">TGPN</text>
<text class="b" font-size="26" x="1693.0" y="226.3">400</text>
<rect x="1786.7" y="180.6" width="11.8" height="11.8" fill="#767171" stroke="#000" stroke-width="2.6"/>
<text class="b" font-size="26" x="1805.4" y="194">PNY</text>
<text class="b" font-size="26" x="1806.0" y="226.3">200</text>
<rect x="1880.3" y="180.6" width="11.8" height="11.8" fill="#595959" stroke="#000" stroke-width="2.6"/>
<text class="b" font-size="26" x="1899.8" y="194">PNY</text>
<text class="b" font-size="26" x="1900.8" y="226.3">400</text>
</g>
</svg></body></html>
